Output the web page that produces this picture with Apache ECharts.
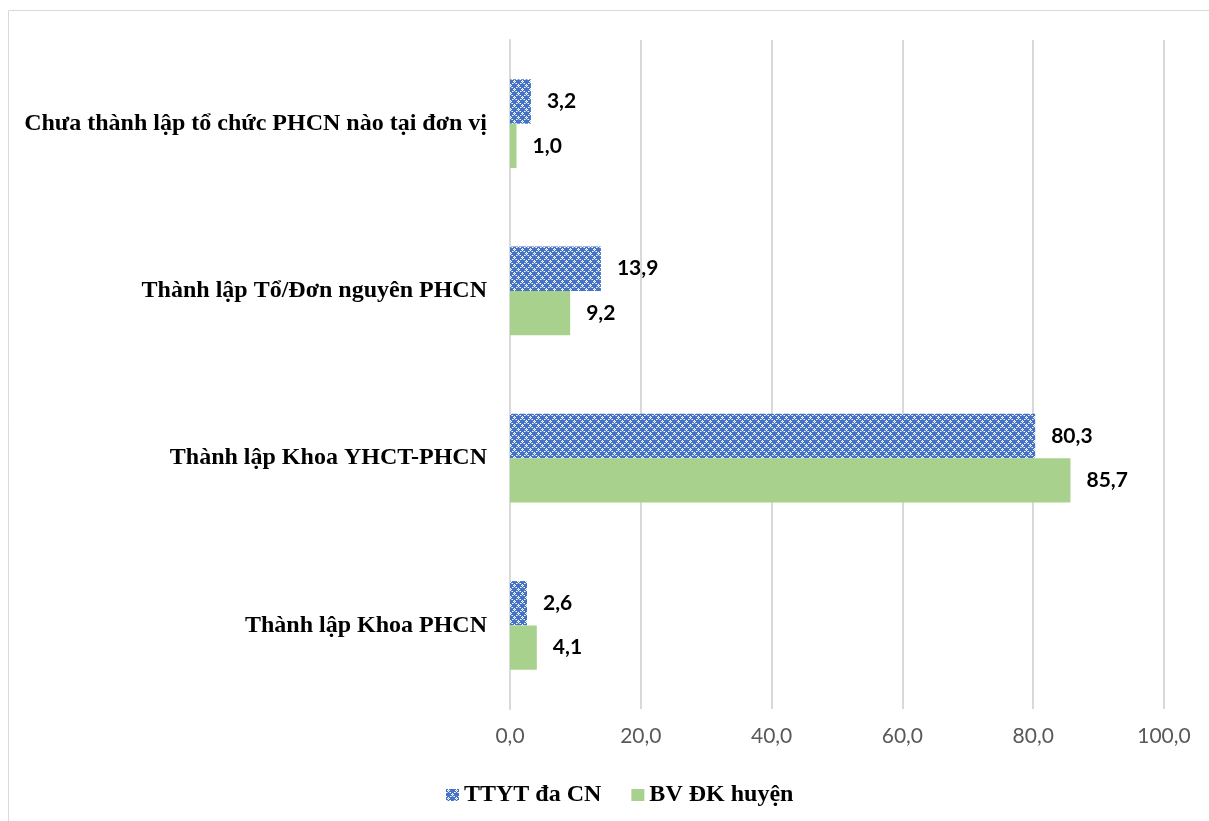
<!DOCTYPE html>
<html>
<head>
<meta charset="utf-8">
<style>
  html, body { margin: 0; padding: 0; background: #fff; }
  #chart { width: 1209px; height: 821px; }
</style>
<script src="https://cdn.jsdelivr.net/npm/echarts@6/dist/echarts.min.js"></script>
</head>
<body>
<div id="chart"></div>
<script>
// Categories, bottom to top
const categories = [
  'Thành lập Khoa PHCN',
  'Thành lập Khoa YHCT-PHCN',
  'Thành lập Tổ/Đơn nguyên PHCN',
  'Chưa thành lập tổ chức PHCN nào tại đơn vị'
];
const seriesNames = ['TTYT đa CN', 'BV ĐK huyện'];
const ttytValues = [2.6, 80.3, 13.9, 3.2];
const bvValues = [4.1, 85.7, 9.2, 1.0];
const xTicks = [0, 20, 40, 60, 80, 100];

// Blue tile with white crosses for the patterned series
function makePattern() {
  const c = document.createElement('canvas');
  c.width = 8; c.height = 8;
  const g = c.getContext('2d');
  g.fillStyle = '#4472C4';
  g.fillRect(0, 0, 8, 8);
  g.fillStyle = '#ffffff';
  const white = [[2,0],[1,1],[3,1],[2,2],[6,4],[5,5],[7,5],[6,6],[0,3],[4,3],[0,7],[4,7]];
  white.forEach(p => g.fillRect(p[0], p[1], 1, 1));
  g.fillStyle = '#a9bfe8';
  const light = [[2,1],[6,5],[1,3],[3,3],[5,7],[7,7]];
  light.forEach(p => g.fillRect(p[0], p[1], 1, 1));
  return c;
}
const pattern = { image: makePattern(), repeat: 'repeat' };

const fmt = v => v.toFixed(1).replace('.', ',');

const chart = echarts.init(document.getElementById('chart'), null, { renderer: 'canvas' });

const labelStyle = {
  show: true,
  position: 'right',
  distance: 16,
  fontFamily: 'Lato',
  fontWeight: 'bold',
  fontSize: 21,
  color: '#000',
  formatter: p => fmt(p.value)
};

chart.setOption({
  animation: false,
  graphic: [{
    type: 'rect',
    shape: { x: 8.5, y: 10.5, width: 1220, height: 830 },
    style: { fill: 'none', stroke: '#d9d9d9', lineWidth: 1 },
    silent: true
  }],
  legend: {
    data: [
      { name: seriesNames[0], itemStyle: { color: pattern } },
      { name: seriesNames[1] }
    ],
    left: 446,
    top: 783,
    padding: 0,
    itemWidth: 13,
    itemHeight: 12,
    itemGap: 30,
    icon: 'rect',
    textStyle: { fontFamily: 'Liberation Serif', fontWeight: 'bold', fontSize: 24, color: '#000' }
  },
  grid: { left: 510, right: 45, top: 40, bottom: 112, containLabel: false },
  xAxis: {
    type: 'value',
    min: xTicks[0],
    max: xTicks[xTicks.length - 1],
    interval: 20,
    axisLine: { show: false },
    axisTick: { show: false },
    splitLine: { show: true, lineStyle: { color: '#d9d9d9', width: 2 } },
    axisLabel: {
      margin: 17,
      fontFamily: 'Lato',
      fontSize: 21,
      color: '#595959',
      formatter: v => fmt(v)
    }
  },
  yAxis: {
    type: 'category',
    data: categories,
    axisLine: { show: true, lineStyle: { color: '#d9d9d9', width: 2 } },
    axisTick: { show: false },
    axisLabel: {
      margin: 23,
      fontFamily: 'Liberation Serif',
      fontWeight: 'bold',
      fontSize: 24,
      color: '#000'
    }
  },
  series: [
    {
      name: seriesNames[0],
      type: 'bar',
      data: ttytValues,
      barGap: '0%',
      barCategoryGap: '47%',
      itemStyle: { color: pattern },
      label: labelStyle
    },
    {
      name: seriesNames[1],
      type: 'bar',
      data: bvValues,
      barGap: '0%',
      barCategoryGap: '47%',
      itemStyle: { color: '#A9D18E' },
      label: labelStyle
    }
  ]
});
</script>
</body>
</html>
